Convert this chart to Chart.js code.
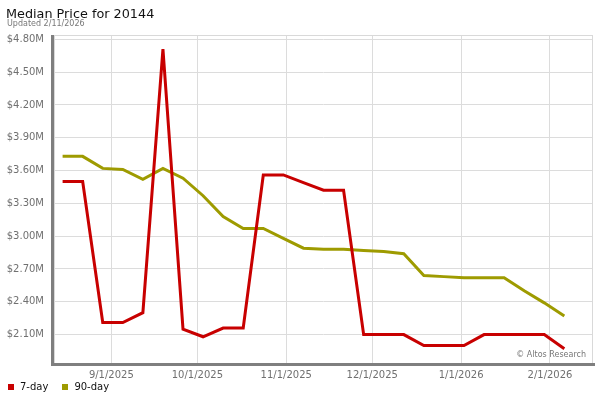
<!DOCTYPE html>
<html>
<head>
<meta charset="utf-8">
<title>Median Price for 20144</title>
<script src="https://cdn.jsdelivr.net/npm/chart.js@4.4.1/dist/chart.umd.min.js"></script>
<style>
  html, body { margin: 0; padding: 0; background: #fff; }
  #wrap { position: relative; width: 600px; height: 400px; font-family: 'DejaVu Sans', sans-serif; }
  #chart-title { position: absolute; left: 6px; top: 6px; font-size: 12.8px; line-height: 16px; color: #111; white-space: nowrap; }
  #chart-updated { position: absolute; left: 7px; top: 19px; font-size: 8px; line-height: 10px; color: #777; white-space: nowrap; }
  #price-chart { position: absolute; left: 0; top: 0; }
  #legend { position: absolute; left: 8px; top: 380px; display: flex; font-size: 10px; line-height: 13px; color: #111; }
  #legend .item { display: flex; align-items: center; margin-right: 14px; white-space: nowrap; }
  #legend .box { width: 6px; height: 6px; margin-right: 6px; }
</style>
</head>
<body>
<div id="wrap">
  <canvas id="price-chart" width="600" height="400"></canvas>
  <div id="chart-title">Median Price for 20144</div>
  <div id="chart-updated">Updated 2/11/2026</div>
  <div id="legend"></div>
</div>
<script>
// Weekly data points (one per Friday)
const weekDates = [
    '2025-08-15', '2025-08-22', '2025-08-29', '2025-09-05', '2025-09-12', '2025-09-19',
    '2025-09-26', '2025-10-03', '2025-10-10', '2025-10-17', '2025-10-24', '2025-10-31',
    '2025-11-07', '2025-11-14', '2025-11-21', '2025-11-28', '2025-12-05', '2025-12-12',
    '2025-12-19', '2025-12-26', '2026-01-02', '2026-01-09', '2026-01-16', '2026-01-23',
    '2026-01-30', '2026-02-06'
];

// Median price, rolling 7-day and 90-day
const sevenDay = [
    3500000, 3500000, 2210000, 2210000, 2300000, 4710000,
    2150000, 2080000, 2160000, 2160000, 3560000, 3560000,
    3490000, 3420000, 3420000, 2100000, 2100000, 2100000,
    2000000, 2000000, 2000000, 2100000, 2100000, 2100000,
    2100000, 1970000
];
const ninetyDay = [
    3730000, 3730000, 3620000, 3610000, 3520000, 3620000,
    3530000, 3370000, 3180000, 3070000, 3070000, 2980000,
    2890000, 2880000, 2880000, 2870000, 2860000, 2840000,
    2640000, 2630000, 2620000, 2620000, 2620000, 2500000,
    2390000, 2270000
];

const seriesNames = ['7-day', '90-day'];
const seriesColors = ['#c80000', '#9e9b00'];

const yTickValues = [2100000, 2400000, 2700000, 3000000, 3300000, 3600000, 3900000, 4200000, 4500000, 4800000];
const xTickLabels = ['9/1/2025', '10/1/2025', '11/1/2025', '12/1/2025', '1/1/2026', '2/1/2026'];

const DAY_MS = 86400000;
const isoToDay = s => Date.parse(s) / DAY_MS;
const mdyToDay = s => {
    const [m, d, y] = s.split('/').map(Number);
    return Date.UTC(y, m - 1, d) / DAY_MS;
};
const dayToMdy = v => {
    const dt = new Date(Math.round(v) * DAY_MS);
    return `${dt.getUTCMonth() + 1}/${dt.getUTCDate()}/${dt.getUTCFullYear()}`;
};

const toPoints = values => values.map((v, i) => ({ x: isoToDay(weekDates[i]), y: v }));

// Plot frame: light border round the plot plus the dark left/bottom edge
const framePlugin = {
    id: 'frame',
    beforeDatasetsDraw(chart) {
        const { ctx, chartArea: a } = chart;
        ctx.save();
        ctx.strokeStyle = '#d9d9d9';
        ctx.lineWidth = 1;
        ctx.strokeRect(a.left + 0.5, a.top + 0.5, a.right - a.left - 1, a.bottom - a.top);
        ctx.restore();
    },
    afterDatasetsDraw(chart) {
        const { ctx, chartArea: a } = chart;
        ctx.save();
        ctx.fillStyle = '#7f7f7f';
        ctx.fillRect(a.left - 3, a.top, 3, a.bottom - a.top + 3);
        ctx.fillRect(a.left - 3, a.bottom, a.right - a.left + 5, 3);
        ctx.fillStyle = '#777';
        ctx.font = "8px 'DejaVu Sans', sans-serif";
        ctx.textAlign = 'right';
        ctx.textBaseline = 'alphabetic';
        ctx.fillText('\u00a9 Altos Research', a.right - 7, a.bottom - 6);
        ctx.restore();
    }
};

Chart.defaults.font.family = "'DejaVu Sans', sans-serif";

const ctx = document.getElementById('price-chart').getContext('2d');
const priceChart = new Chart(ctx, {
    type: 'line',
    data: {
        datasets: [
            {
                label: seriesNames[0],
                data: toPoints(sevenDay),
                borderColor: seriesColors[0],
                backgroundColor: seriesColors[0],
                borderWidth: 3,
                pointRadius: 0,
                tension: 0
            },
            {
                label: seriesNames[1],
                data: toPoints(ninetyDay),
                borderColor: seriesColors[1],
                backgroundColor: seriesColors[1],
                borderWidth: 3,
                pointRadius: 0,
                tension: 0
            }
        ]
    },
    options: {
        responsive: false,
        animation: false,
        devicePixelRatio: 1,
        layout: {
            padding: { left: 0, right: 7, top: 35, bottom: 12 }
        },
        plugins: {
            legend: { display: false },
            tooltip: { enabled: false }
        },
        scales: {
            x: {
                type: 'linear',
                min: isoToDay('2025-08-12'),
                max: isoToDay('2026-02-16'),
                afterBuildTicks: scale => {
                    scale.ticks = xTickLabels.map(l => ({ value: mdyToDay(l) }));
                },
                afterFit: scale => { scale.height = 25; },
                ticks: {
                    callback: v => dayToMdy(v),
                    color: '#707070',
                    font: { size: 10 },
                    padding: 6,
                    maxRotation: 0,
                    autoSkip: false
                },
                grid: { color: '#dcdcdc', drawTicks: false },
                border: { display: false }
            },
            y: {
                min: 1840000,
                max: 4840000,
                afterBuildTicks: scale => {
                    scale.ticks = yTickValues.map(v => ({ value: v }));
                },
                afterFit: scale => { scale.width = 54; },
                ticks: {
                    callback: v => '$' + (v / 1000000).toFixed(2) + 'M',
                    color: '#707070',
                    font: { size: 10 },
                    padding: 10
                },
                grid: { color: '#dcdcdc', drawTicks: false },
                border: { display: false }
            }
        }
    },
    plugins: [framePlugin]
});

// Build the legend from the chart's own datasets
const legendElement = document.getElementById('legend');
priceChart.data.datasets.forEach(ds => {
    const item = document.createElement('span');
    item.className = 'item';
    const box = document.createElement('span');
    box.className = 'box';
    box.style.background = ds.borderColor;
    item.appendChild(box);
    item.appendChild(document.createTextNode(ds.label));
    legendElement.appendChild(item);
});
</script>
</body>
</html>
